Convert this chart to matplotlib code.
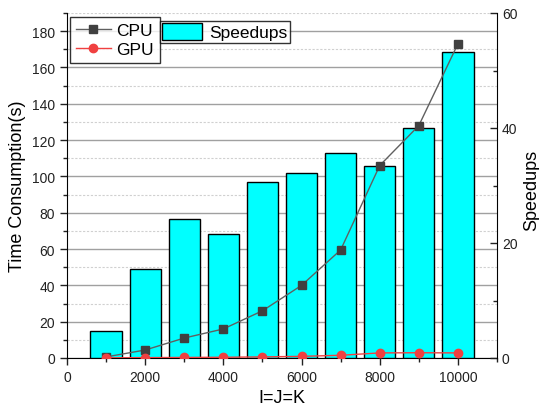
import numpy as np
import matplotlib
matplotlib.use("Agg")
import matplotlib.pyplot as plt
from matplotlib.ticker import MultipleLocator
from matplotlib.patches import Patch
from matplotlib.lines import Line2D

plt.rcParams['font.family'] = ['Liberation Sans', 'DejaVu Sans']

sizes = [1000, 2000, 3000, 4000, 5000, 6000, 7000, 8000, 9000, 10000]
cpu_time = [0.6, 4.4, 11.0, 16.0, 26.0, 40.0, 59.5, 106.0, 128.0, 173.0]
gpu_time = [0.1, 0.2, 0.3, 0.4, 0.6, 0.9, 1.5, 2.8, 2.9, 2.8]
speedups = [4.7, 15.5, 24.2, 21.6, 30.6, 32.2, 35.7, 33.4, 40.0, 53.2]

fig = plt.figure(figsize=(5.39, 4.14), dpi=100)
pos = [67/539, 1 - 359/414, 430/539, 345/414]

# background axes: left scale + grid
ax = fig.add_axes(pos)
ax.set_xlim(0, 11000)
ax.set_ylim(0, 190)
ax.yaxis.set_major_locator(MultipleLocator(20))
ax.yaxis.set_minor_locator(MultipleLocator(10))
ax.xaxis.set_major_locator(MultipleLocator(2000))
ax.xaxis.set_minor_locator(MultipleLocator(1000))
ax.grid(True, which='major', axis='y', color='#a0a0a0', lw=1.0)
ax.grid(True, which='minor', axis='y', color='#d0d0d0', lw=0.8, ls=(0, (2, 1.5)))
ax.set_axisbelow(True)
for s in ['top', 'right']:
    ax.spines[s].set_visible(False)
ax.tick_params(which='both', direction='out', labelsize=10, colors='#222222')
ax.tick_params(which='major', length=5, width=1)
ax.tick_params(which='minor', length=3, width=1)
ax.set_xlabel('I=J=K', fontsize=13)
ax.set_ylabel('Time Consumption(s)', fontsize=13)

# bars on right scale
ax2 = ax.twinx()
ax2.set_ylim(0, 60)
ax2.yaxis.set_major_locator(MultipleLocator(20))
ax2.yaxis.set_minor_locator(MultipleLocator(10))
bars = ax2.bar(sizes, speedups, width=800, color='#00ffff', edgecolor='black', lw=1.0)
for s in ['top', 'left', 'bottom']:
    ax2.spines[s].set_visible(False)
ax2.tick_params(which='both', direction='in', labelsize=10, colors='#222222')
ax2.tick_params(which='major', length=5, width=1)
ax2.tick_params(which='minor', length=3, width=1)
ax2.set_ylabel('Speedups', fontsize=13, rotation=90, va='center', ha='center')
ax2.yaxis.set_label_coords(1.081, 0.49)

# lines on top, left scale
ax3 = fig.add_axes(pos, sharex=ax, sharey=ax)
ax3.set_axis_off()
ax3.patch.set_visible(False)
ax3.plot(sizes, cpu_time, color='#606060', lw=1.0, marker='s', ms=6,
         mfc='#404040', mec='#404040', label='CPU')
ax3.plot(sizes, gpu_time, color='#f04040', lw=1.0, marker='o', ms=6,
         mfc='#f04040', mec='#f04040', label='GPU')

h = [Line2D([], [], color='#606060', lw=1.0, marker='s', ms=6, mfc='#404040', mec='#404040'),
     Line2D([], [], color='#f04040', lw=1.0, marker='o', ms=6, mfc='#f04040', mec='#f04040')]
leg1 = ax3.legend(h, ['CPU', 'GPU'], loc='upper left', bbox_to_anchor=(0.007, 0.988),
                  fontsize=12.5, frameon=True, fancybox=False, edgecolor='black',
                  borderpad=0.35, handlelength=2.0, handletextpad=0.3, labelspacing=0.2,
                  borderaxespad=0)
leg1.get_frame().set_linewidth(1.0)
ax3.add_artist(leg1)
leg2 = ax3.legend([Patch(facecolor='#00ffff', edgecolor='black', lw=1.0)], ['Speedups'],
                  loc='upper left', bbox_to_anchor=(0.216, 0.978), fontsize=12.5,
                  frameon=True, fancybox=False, edgecolor='black', borderpad=0.15,
                  handlelength=2.3, handleheight=1.1, handletextpad=0.4, borderaxespad=0)
leg2.get_frame().set_linewidth(1.0)

fig.savefig('out.png', dpi=100)
